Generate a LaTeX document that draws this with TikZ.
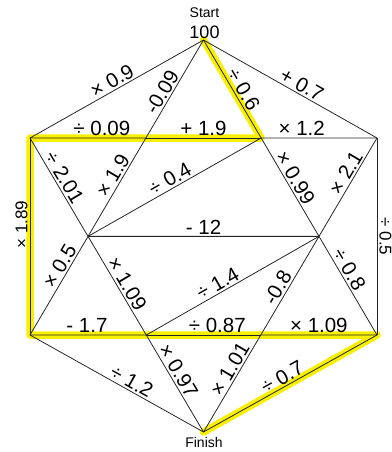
\documentclass[tikz,border=0pt]{standalone}
\usepackage{fontspec}
\setmainfont{Liberation Sans}
\definecolor{hlyellow}{RGB}{248,240,0}
\begin{document}
\begin{tikzpicture}[x=1pt,y=1pt,
  edge/.style={draw=black!85, line width=0.8pt},
  lab/.style={sloped, above, inner sep=1.8pt, font=\fontsize{20.5}{21}\selectfont},
  vlab/.style={sloped, above, inner sep=2pt, font=\fontsize{17}{17}\selectfont},
  hl/.style={draw=hlyellow, line width=7.5pt, line join=round, line cap=round}]
\useasboundingbox (0,0) rectangle (391,-452);
\clip (0,0) rectangle (391,-452);
% outer points
\coordinate (S)  at (203.5,-40);
\coordinate (L1) at (30,-138);
\coordinate (R1) at (377,-138);
\coordinate (L2) at (30,-335);
\coordinate (R2) at (377,-335);
\coordinate (F)  at (203.5,-432);
% inner hexagon
\coordinate (A)  at (intersection of S--L2 and L1--R1);
\coordinate (M1) at (intersection of S--R2 and L1--R1);
\coordinate (P)  at (intersection of S--L2 and L1--F);
\coordinate (Q)  at (intersection of S--R2 and R1--F);
\coordinate (M2) at (intersection of L1--F and L2--R2);
\coordinate (N2) at (intersection of R1--F and L2--R2);
% highlighted route
\draw[hl] (S) -- (M1) -- (A) -- (L1) -- (L2) -- (M2) -- (N2) -- (R2) -- (F);
% outer edges
\draw[edge] (L1) -- node[lab,pos=.5]{× 0.9} (S);
\draw[edge] (S) -- node[lab,pos=.54]{+ 0.7} (R1);
\draw[edge] (L2) -- node[vlab,pos=.56]{× 1.89} (L1);
\draw[edge] (R1) -- node[vlab,pos=.5]{÷ 0.5} (R2);
\draw[edge] (L2) -- node[lab,pos=.56]{÷ 1.2} (F);
\draw[edge] (F) -- node[lab,pos=.48]{÷ 0.7} (R2);
% top line
\draw[edge] (L1) -- node[lab,pos=.62]{÷ 0.09} (A);
\draw[edge] (A) -- node[lab,pos=.5]{+ 1.9} (M1);
\draw[edge] (M1) -- node[lab,pos=.35]{× 1.2} (R1);
% bottom line
\draw[edge] (L2) -- node[lab,pos=.49]{- 1.7} (M2);
\draw[edge] (M2) -- node[lab,pos=.62]{÷ 0.87} (N2);
\draw[edge] (N2) -- node[lab,pos=.5]{× 1.09} (R2);
% S to L2
\draw[edge] (A) -- node[lab,pos=.42]{-0.09} (S);
\draw[edge] (P) -- node[lab,pos=.57]{× 1.9} (A);
\draw[edge] (L2) -- node[lab,pos=.65]{× 0.5} (P);
% S to R2
\draw[edge] (S) -- node[lab,pos=.55]{÷ 0.6} (M1);
\draw[edge] (M1) -- node[lab,pos=.45]{× 0.99} (Q);
\draw[edge] (Q) -- node[lab,pos=.38]{÷ 0.8} (R2);
% L1 to F
\draw[edge] (L1) -- node[lab,pos=.45]{÷ 2.01} (P);
\draw[edge] (P) -- node[lab,pos=.53]{× 1.09} (M2);
\draw[edge] (M2) -- node[lab,pos=.42]{× 0.97} (F);
% R1 to F
\draw[edge] (Q) -- node[lab,pos=.6]{× 2.1} (R1);
\draw[edge] (N2) -- node[lab,pos=.43]{-0.8} (Q);
\draw[edge] (F) -- node[lab,pos=.6]{× 1.01} (N2);
% inner chords
\draw[edge] (P) -- node[lab,pos=.5]{- 12} (Q);
\draw[edge] (P) -- node[lab,pos=.5]{÷ 0.4} (M1);
\draw[edge] (M2) -- node[lab,pos=.44]{÷ 1.4} (Q);
% start / finish
\node[font=\fontsize{14}{14}\selectfont] (start) at (204.5,-13) {Start};
\node[font=\fontsize{18}{18}\selectfont] (hundred) at (204.5,-32) {100};
\node[font=\fontsize{14}{14}\selectfont] (finish) at (204,-442) {Finish};
\end{tikzpicture}
\end{document}
